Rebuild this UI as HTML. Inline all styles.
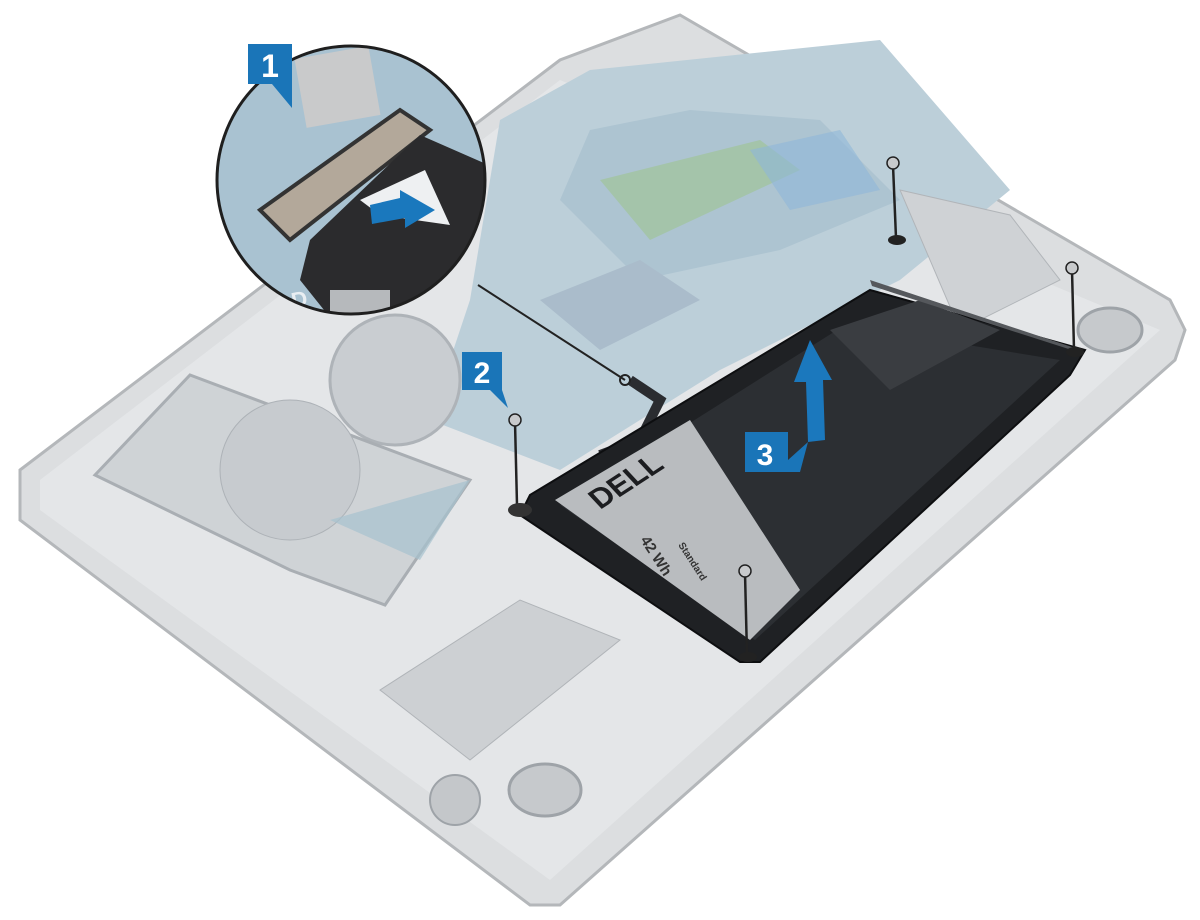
<!DOCTYPE html>
<html><head><meta charset="utf-8"><style>
html,body{margin:0;padding:0;background:#fff;width:1200px;height:920px;overflow:hidden}
svg{display:block}
text{font-family:"Liberation Sans",sans-serif;font-weight:bold}
</style></head><body>
<svg width="1200" height="920" viewBox="0 0 1200 920" xmlns="http://www.w3.org/2000/svg">
<!-- chassis -->
<polygon points="20,470 560,60 680,15 1170,300 1185,330 1175,360 560,905 530,905 20,520" fill="#dcdee0" stroke="#b4b7ba" stroke-width="3"/>
<polygon points="40,480 560,80 1160,330 550,880 40,510" fill="#e4e6e8"/>
<!-- motherboard -->
<polygon points="500,120 590,70 880,40 1010,190 900,280 720,370 560,470 430,420 470,300" fill="#bccfd9"/>
<polygon points="590,130 690,110 820,120 900,200 780,250 640,280 560,200" fill="#adc4d1"/>
<polygon points="600,180 760,140 800,170 650,240" fill="#9fc49a" opacity="0.7"/>
<polygon points="750,150 840,130 880,190 790,210" fill="#8fb7d8" opacity="0.6"/>
<polygon points="540,300 640,260 700,300 600,350" fill="#aabccb"/>
<!-- fan -->
<circle cx="395" cy="380" r="65" fill="#c9cdd1" stroke="#aeb3b8" stroke-width="3"/>
<!-- hdd -->
<polygon points="95,475 190,375 470,480 385,605 290,570" fill="#cfd3d6" stroke="#a9aeb3" stroke-width="3"/>
<circle cx="290" cy="470" r="70" fill="#c7cbcf" stroke="#adb2b7"/>
<polygon points="330,520 470,480 420,560" fill="#a7c2cf" opacity="0.7"/>
<!-- right bracket -->
<polygon points="900,190 1010,215 1060,280 960,330" fill="#cfd2d5" stroke="#b1b5b9"/>
<!-- speakers -->
<ellipse cx="1110" cy="330" rx="32" ry="22" fill="#c6c9cc" stroke="#9ea3a8" stroke-width="3"/>
<ellipse cx="545" cy="790" rx="36" ry="26" fill="#c6c9cc" stroke="#9ea3a8" stroke-width="3"/>
<!-- palmrest lower parts -->
<polygon points="380,690 520,600 620,640 470,760" fill="#cdd0d3" stroke="#b0b4b8"/>
<circle cx="455" cy="800" r="25" fill="#c4c7ca" stroke="#9ea3a8" stroke-width="2"/>
<!-- cable from battery -->
<polyline points="630,380 660,400 640,440 600,455" fill="none" stroke="#2a2c30" stroke-width="10"/>
<!-- battery -->
<polygon points="530,495 870,290 1085,350 1070,375 760,662 740,662 520,515" fill="#1f2124" stroke="#0d0e10" stroke-width="2"/>
<polygon points="560,505 845,325 1060,360 755,640" fill="#2c2f33"/>
<polygon points="555,500 690,420 800,590 750,640" fill="#b9bcbf"/>
<text x="0" y="0" transform="translate(600,510) rotate(-33) skewX(10)" font-size="30" fill="#1c1d20">DELL</text>
<text x="0" y="0" transform="translate(640,540) rotate(57)" font-size="15" fill="#333" font-weight="normal">42 Wh</text>
<text x="0" y="0" transform="translate(678,545) rotate(57)" font-size="10" fill="#333" font-weight="normal">Standard</text>
<polygon points="830,330 920,300 1000,330 890,390" fill="#3a3d41"/>
<polygon points="870,280 1075,348 1078,352 872,286" fill="#55585c"/>
<!-- screws -->
<g fill="#c8cacc" stroke="#222" stroke-width="1.5">
<line x1="893" y1="165" x2="896" y2="238" stroke="#222" stroke-width="2.5"/><circle cx="893" cy="163" r="6"/>
<line x1="1072" y1="270" x2="1074" y2="350" stroke="#222" stroke-width="2.5"/><circle cx="1072" cy="268" r="6"/>
<line x1="515" y1="422" x2="517" y2="505" stroke="#222" stroke-width="2.5"/><circle cx="515" cy="420" r="6"/>
<line x1="745" y1="573" x2="747" y2="655" stroke="#222" stroke-width="2.5"/><circle cx="745" cy="571" r="6"/>
</g>
<ellipse cx="897" cy="240" rx="9" ry="5" fill="#222"/>
<ellipse cx="1075" cy="352" rx="9" ry="5" fill="#222"/>
<ellipse cx="520" cy="510" rx="12" ry="7" fill="#333"/>
<ellipse cx="748" cy="657" rx="9" ry="5" fill="#222"/>
<!-- lift arrow -->
<polygon points="810,340 832,380 823,380 825,440 808,442 806,382 794,382" fill="#1b78bd"/>
<!-- leader line -->
<line x1="478" y1="285" x2="625" y2="380" stroke="#222" stroke-width="2"/>
<circle cx="625" cy="380" r="5" fill="none" stroke="#222" stroke-width="2"/>
<!-- zoom circle -->
<defs><clipPath id="c"><circle cx="351" cy="180" r="134"/></clipPath></defs>
<g clip-path="url(#c)">
<rect x="210" y="40" width="290" height="290" fill="#a9c2d1"/>
<rect x="300" y="52" width="75" height="70" fill="#c9cacb" transform="rotate(-10 337 87)"/>
<polygon points="260,210 400,110 430,130 290,240" fill="#b3a89a" stroke="#333" stroke-width="4"/>
<polygon points="310,240 420,135 500,170 500,330 340,330 300,280" fill="#2b2b2d"/>
<polygon points="360,200 425,170 450,225 380,215" fill="#eef0f2"/>
<polygon points="370,205 400,198 400,190 435,210 405,228 405,218 372,224" fill="#1a78bd"/>
<rect x="330" y="290" width="60" height="40" fill="#b6b9bc"/>
<text x="262" y="315" font-size="22" fill="#e9eef2" transform="rotate(-12 262 315)">HDD</text>
</g>
<circle cx="351" cy="180" r="134" fill="none" stroke="#1f1f1f" stroke-width="3"/>
<!-- labels -->
<g>
<polygon points="248,44 292,44 292,84 292,108 272,84 248,84" fill="#1a75b8"/>
<text x="270" y="77" font-size="32" fill="#fff" text-anchor="middle">1</text>
<polygon points="462,352 502,352 502,390 508,408 490,390 462,390" fill="#1a75b8"/>
<text x="482" y="383" font-size="30" fill="#fff" text-anchor="middle">2</text>
<polygon points="745,432 788,432 788,460 808,442 800,472 745,472" fill="#1a75b8"/>
<text x="765" y="465" font-size="30" fill="#fff" text-anchor="middle">3</text>
</g>
</svg>
</body></html>
